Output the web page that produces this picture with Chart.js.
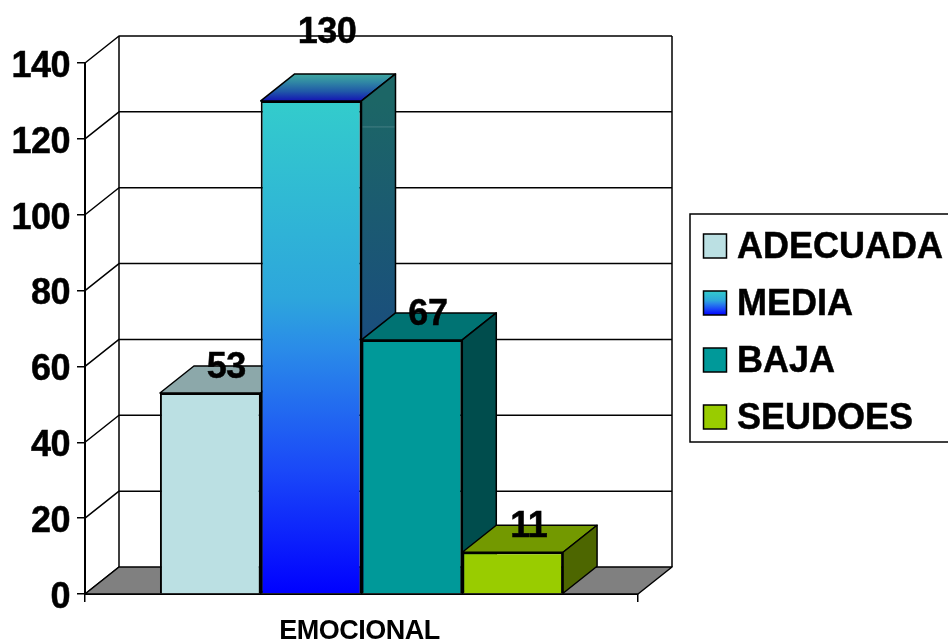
<!DOCTYPE html>
<html>
<head>
<meta charset="utf-8">
<style>
  html, body { margin: 0; padding: 0; background: #fff; overflow: hidden; }
  #wrap { width: 948px; height: 643px; position: relative; }
</style>
<script src="https://cdn.jsdelivr.net/npm/chart.js@4/dist/chart.umd.min.js"></script>
</head>
<body>
<div id="wrap"><canvas id="chart" width="948" height="643"></canvas></div>
<script>
// Values
const categories = ['EMOCIONAL'];
const seriesNames = ['ADECUADA', 'MEDIA', 'BAJA', 'SEUDOES'];
const adecuada = [53];
const media = [130];
const baja = [67];
const seudoes = [11];
const yTicks = [0, 20, 40, 60, 80, 100, 120, 140];

// Face colours per series
const frontColors = ['#BBE0E3', null, '#009999', '#99CC00'];
const topColors = ['#8CA8AA', null, '#007373', '#739900'];
const sideColors = ['#5E7072', null, '#004D4D', '#4D6600'];
const gradientStops = [[0, '#33CCCC'], [0.4, '#2DA6DC'], [0.5, '#2A8CE8'], [0.75, '#1A48F8'], [1, '#0000FF']];

// Oblique projection of the bars and walls
const DEPTH_X = 34;
const DEPTH_Y = -27;
// Upward shift of each value label from the bar's top edge
const labelLift = [25, 68, 25, 25];
const LABEL_SHIFT_X = 16;

const BOLD = '"Liberation Sans", Arial, sans-serif';
const INK = '#000';

function stops(g, list) {
  list.forEach(([at, c]) => g.addColorStop(at, c));
  return g;
}

function poly(ctx, pts, fill) {
  ctx.beginPath();
  pts.forEach((p, i) => i ? ctx.lineTo(p[0], p[1]) : ctx.moveTo(p[0], p[1]));
  ctx.closePath();
  if (fill) { ctx.fillStyle = fill; ctx.fill(); }
  ctx.stroke();
}

function heavyText(ctx, text, x, y) {
  ctx.fillStyle = INK;
  ctx.strokeStyle = INK;
  ctx.lineWidth = 0.5;
  ctx.fillText(text, x, y);
  ctx.strokeText(text, x, y);
}

// Walls, floor and the depth faces of the bars sit behind the front faces
const sceneryPlugin = {
  id: 'scenery',
  beforeDraw(chart) {
    // slightly tightens the axis lettering
    chart.ctx.letterSpacing = '-0.5px';
  },
  beforeDatasetsDraw(chart) {
    const { ctx, chartArea: a, scales: { y } } = chart;
    ctx.save();
    ctx.strokeStyle = INK;
    ctx.lineWidth = 1.5;
    ctx.lineJoin = 'round';

    const backL = a.left + DEPTH_X, backR = a.right + DEPTH_X;
    // back wall grid and left wall slants
    yTicks.forEach(v => {
      const py = y.getPixelForValue(v);
      ctx.beginPath();
      ctx.moveTo(a.left, py);
      ctx.lineTo(backL, py + DEPTH_Y);
      if (v > 0) ctx.lineTo(backR, py + DEPTH_Y);
      ctx.stroke();
    });
    ctx.beginPath();
    ctx.moveTo(backL, y.getPixelForValue(140) + DEPTH_Y);
    ctx.lineTo(backL, y.getPixelForValue(0) + DEPTH_Y);
    ctx.moveTo(backR, y.getPixelForValue(140) + DEPTH_Y);
    ctx.lineTo(backR, y.getPixelForValue(0) + DEPTH_Y);
    ctx.stroke();

    // floor
    const z = y.getPixelForValue(0);
    poly(ctx, [[a.left, z], [backL, z + DEPTH_Y], [backR, z + DEPTH_Y], [a.right, z]], '#808080');

    // top and side faces, left to right
    chart.data.datasets.forEach((ds, i) => {
      const el = chart.getDatasetMeta(i).data[0];
      const l = el.x - el.width / 2, r = el.x + el.width / 2, t = el.y, b = el.base;
      let topFill = topColors[i], sideFill = sideColors[i];
      if (i === 1) {
        topFill = stops(ctx.createLinearGradient(0, t, 0, t + DEPTH_Y),
          [[0, '#1414B4'], [0.35, '#2058A8'], [0.7, '#3088A4'], [1, '#40A8A0']]);
        sideFill = stops(ctx.createLinearGradient(0, t, 0, b),
          [[0, '#1C6666'], [0.46, '#1A4F7C'], [1, '#000080']]);
      }
      poly(ctx, [[l, t], [l + DEPTH_X, t + DEPTH_Y], [r + DEPTH_X, t + DEPTH_Y], [r, t]], topFill);
      poly(ctx, [[r, t], [r + DEPTH_X, t + DEPTH_Y], [r + DEPTH_X, b + DEPTH_Y], [r, b]], sideFill);
      if (i === 1) {
        // faint seam across the side face
        ctx.save();
        ctx.strokeStyle = 'rgba(255,255,255,0.18)';
        ctx.lineWidth = 1;
        ctx.beginPath();
        ctx.moveTo(r + 1, t + 26);
        ctx.lineTo(r + DEPTH_X - 1, t + 26);
        ctx.stroke();
        ctx.restore();
      }
    });
    ctx.restore();
  },
  afterDatasetsDraw(chart) {
    const { ctx } = chart;
    ctx.save();
    // value labels
    ctx.font = 'bold 36px ' + BOLD;
    ctx.textAlign = 'center';
    ctx.textBaseline = 'middle';
    chart.data.datasets.forEach((ds, i) => {
      const el = chart.getDatasetMeta(i).data[0];
      heavyText(ctx, String(ds.data[0]), el.x + LABEL_SHIFT_X, el.y - labelLift[i]);
    });

    // legend box
    ctx.strokeStyle = INK;
    ctx.lineWidth = 1.5;
    ctx.fillStyle = '#fff';
    ctx.fillRect(690, 214, 262, 228);
    ctx.strokeRect(690, 214, 262, 228);
    ctx.textAlign = 'left';
    ctx.letterSpacing = '0px';
    ctx.font = 'bold 36px ' + BOLD;
    chart.data.datasets.forEach((ds, i) => {
      const top = 234 + i * 57;
      let fill = frontColors[i];
      if (i === 1) fill = stops(ctx.createLinearGradient(0, top, 0, top + 24), gradientStops);
      ctx.fillStyle = fill;
      ctx.strokeStyle = INK;
      ctx.lineWidth = 1.5;
      ctx.fillRect(703.5, top, 23, 24);
      ctx.strokeRect(703.5, top, 23, 24);
      heavyText(ctx, ds.label, 737, top + 14);
    });
    ctx.restore();
  }
};

const datasets = [adecuada, media, baja, seudoes].map((data, i) => ({
  label: seriesNames[i],
  data,
  backgroundColor: i === 1
    ? c => {
        const a = c.chart.chartArea;
        if (!a) return '#33CCCC';
        const y = c.chart.scales.y;
        return stops(c.chart.ctx.createLinearGradient(0, y.getPixelForValue(media[0]), 0, a.bottom), gradientStops);
      }
    : frontColors[i],
  borderColor: INK,
  borderWidth: 2,
  barPercentage: 1,
  categoryPercentage: 0.729
}));

new Chart(document.getElementById('chart'), {
  type: 'bar',
  data: { labels: categories, datasets },
  plugins: [sceneryPlugin],
  options: {
    responsive: false,
    animation: false,
    layout: { padding: { left: 0, right: 310, top: 63, bottom: 0 } },
    plugins: { legend: { display: false }, tooltip: { enabled: false }, title: { display: false } },
    scales: {
      x: {
        afterFit(s) { s.height = 49; },
        border: { color: INK, width: 2 },
        grid: { drawOnChartArea: false, color: INK, lineWidth: 1.5, tickLength: 8 },
        ticks: { color: INK, padding: 13, maxRotation: 0, labelOffset: -2, font: { family: BOLD, weight: 'bold', size: 27 } }
      },
      y: {
        min: 0,
        max: 140,
        afterFit(s) { s.width = 85; },
        border: { color: INK, width: 2 },
        grid: { drawOnChartArea: false, color: INK, lineWidth: 1.5, tickLength: 8 },
        ticks: {
          color: INK, stepSize: 20, padding: 7, labelOffset: 4,
          textStrokeColor: INK, textStrokeWidth: 0.5,
          font: { family: BOLD, weight: 'bold', size: 36 }
        }
      }
    }
  }
});
</script>
</body>
</html>
